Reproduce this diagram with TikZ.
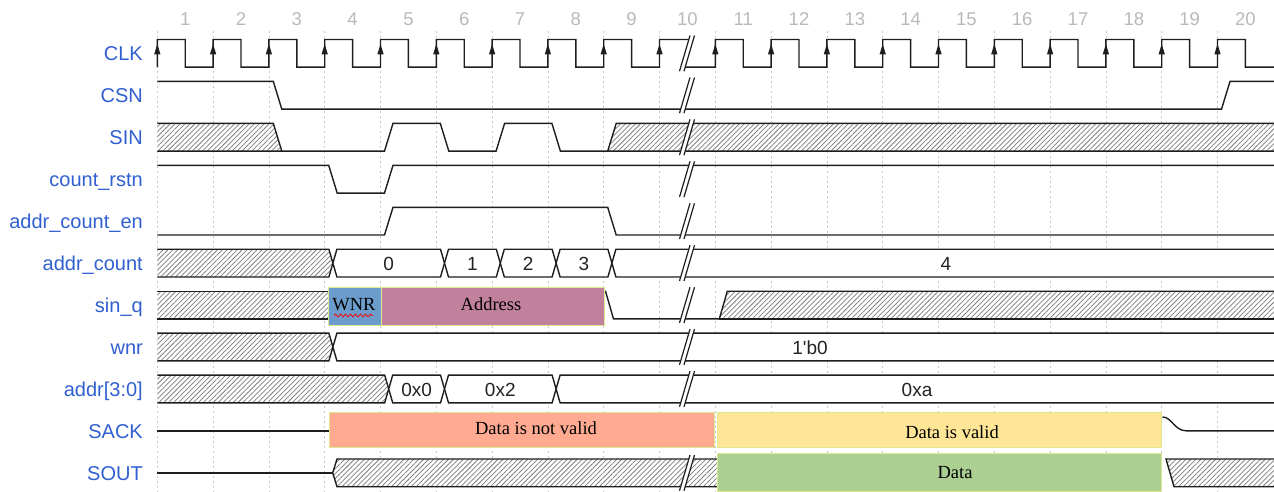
\documentclass[tikz,border=0pt]{standalone}
\usepackage{fontspec}
\setmainfont{Liberation Serif}
\setsansfont{Liberation Sans}
\usetikzlibrary{patterns.meta,decorations.pathmorphing}
\definecolor{sigc}{RGB}{30,30,30}
\definecolor{gridc}{RGB}{200,200,200}
\definecolor{hatchc}{RGB}{125,125,125}
\definecolor{labc}{RGB}{47,95,208}
\definecolor{numc}{RGB}{185,185,185}
\definecolor{valc}{RGB}{35,35,35}
\definecolor{boxedge}{RGB}{222,232,140}
\definecolor{salmonc}{RGB}{255,170,145}
\definecolor{yellowc}{RGB}{255,230,150}
\definecolor{greenc}{RGB}{172,208,146}
\definecolor{bluec}{RGB}{108,156,204}
\definecolor{mauvec}{RGB}{193,128,155}
\tikzset{
 sig/.style={line width=1.4pt, draw=sigc, line join=miter},
 hatch/.style={preaction={fill=white}, pattern={Lines[angle=45,distance=3.5pt,line width=0.75pt]}, pattern color=hatchc},
 wfill/.style={fill=white},
 brkline/.style={line width=1.2pt, draw=sigc},
 gridline/.style={draw=gridc, line width=0.8pt, dash pattern=on 2pt off 3pt},
 lab/.style={font=\sffamily\fontsize{20}{24}\selectfont, text=labc, anchor=base east, inner sep=0pt},
 num/.style={font=\sffamily\fontsize{18.5}{22}\selectfont, text=numc, anchor=base, inner sep=0pt},
 val/.style={font=\sffamily\fontsize{19}{22}\selectfont, text=valc, anchor=base, inner sep=0pt},
 boxtxt/.style={font=\fontsize{18.5}{22}\selectfont, text=black, anchor=base, inner sep=0pt},
 cbox/.style={draw=boxedge, line width=1pt},
}
\newcommand\tbreak[2]{%
 \fill[white] (679.5,{#2+4}) -- (690,{#1-4}) -- (694.5,{#1-4}) -- (684,{#2+4}) -- cycle;
 \draw[brkline] (679.5,{#2+4}) -- (690,{#1-4}) (684,{#2+4}) -- (694.5,{#1-4});}
\newcommand\busL[4]{%
 \path[#1] (157.3,#3) -- ({#2-4},#3) -- (#2,{(#3+#4)/2}) -- ({#2-4},#4) -- (157.3,#4) -- cycle;
 \draw[sig] (157.3,#3) -- ({#2-4},#3) -- (#2,{(#3+#4)/2}) -- ({#2-4},#4) -- (157.3,#4);}
\newcommand\busM[5]{%
 \path[#1,sig] (#2,{(#4+#5)/2}) -- ({#2+4},#4) -- ({#3-4},#4) -- (#3,{(#4+#5)/2}) -- ({#3-4},#5) -- ({#2+4},#5) -- cycle;}
\newcommand\busR[4]{%
 \path[#1] (1276,#3) -- ({#2+4},#3) -- (#2,{(#3+#4)/2}) -- ({#2+4},#4) -- (1276,#4) -- cycle;
 \draw[sig] (1276,#3) -- ({#2+4},#3) -- (#2,{(#3+#4)/2}) -- ({#2+4},#4) -- (1276,#4);}
\begin{document}
\begin{tikzpicture}[x=1pt,y=-1pt]
\useasboundingbox (0,0) rectangle (1274,492);
% grid
\foreach \k in {0,...,19} \draw[gridline] ({157.3+55.8*\k},31) -- ({157.3+55.8*\k},492);
% cycle numbers
\foreach \k in {1,...,20} \node[num] (n\k) at ({157.3+55.8*(\k-0.5)},26) {\k};
% labels
\node[lab] (lclk) at (143,60.5) {CLK};
\node[lab] (lcsn) at (143,102.5) {CSN};
\node[lab] (lsin) at (143,144.5) {SIN};
\node[lab] (lcr) at (143,186.4) {count\_rstn};
\node[lab] (lace) at (143,228.3) {addr\_count\_en};
\node[lab] (lac) at (143,270.3) {addr\_count};
\node[lab] (lsq) at (143,312.2) {sin\_q};
\node[lab] (lwnr) at (143,354.2) {wnr};
\node[lab] (laddr) at (143,396.1) {addr[3:0]};
\node[lab] (lsack) at (143,438.1) {SACK};
\node[lab] (lsout) at (143,480) {SOUT};
% CLK
\draw[sig] (157.3,67.2) \foreach \k in {0,...,8} { -- ({157.3+55.8*\k},39.5) -- ({157.3+55.8*\k+27.9},39.5) -- ({157.3+55.8*\k+27.9},67.2) -- ({157.3+55.8*(\k+1)},67.2) } -- (659.5,39.5) -- (691,39.5);
\draw[sig] (682,67.2) -- (715.3,67.2) \foreach \k in {10,...,18} { -- ({157.3+55.8*\k},39.5) -- ({157.3+55.8*\k+27.9},39.5) -- ({157.3+55.8*\k+27.9},67.2) -- ({157.3+55.8*(\k+1)},67.2) } -- (1217.5,39.5) -- (1245.4,39.5) -- (1245.4,67.2) -- (1276,67.2);
\foreach \k in {0,...,19} \fill[sigc] ({157.3+55.8*\k},44) -- ({157.3+55.8*\k-3.2},54.5) -- ({157.3+55.8*\k+3.2},54.5) -- cycle;
% CSN
\draw[sig] (157.3,81.45) -- (273.3,81.45) -- (281.8,109.15) -- (1221.5,109.15) -- (1230,81.45) -- (1276,81.45);
% SIN
\path[hatch] (157.3,123.4) -- (273.3,123.4) -- (281.8,151.1) -- (157.3,151.1) -- cycle;
\draw[sig] (157.3,123.4) -- (273.3,123.4) -- (281.8,151.1);
\path[hatch] (607.7,151.1) -- (616.2,123.4) -- (1276,123.4) -- (1276,151.1) -- cycle;
\draw[sig] (157.3,151.1) -- (384.5,151.1) -- (393,123.4) -- (440.3,123.4) -- (448.8,151.1) -- (496.1,151.1) -- (504.6,123.4) -- (551.9,123.4) -- (560.4,151.1) -- (607.7,151.1) -- (1276,151.1);
\draw[sig] (607.7,151.1) -- (616.2,123.4) -- (1276,123.4);
% count_rstn
\draw[sig] (157.3,165.35) -- (328.7,165.35) -- (337.2,193.05) -- (384.5,193.05) -- (393,165.35) -- (1276,165.35);
% addr_count_en
\draw[sig] (157.3,235) -- (384.5,235) -- (393,207.3) -- (607.7,207.3) -- (616.2,235) -- (1276,235);
% addr_count
\busL{hatch}{332.9}{249.25}{276.95}
\busM{wfill}{332.9}{444.5}{249.25}{276.95}
\busM{wfill}{444.5}{500.3}{249.25}{276.95}
\busM{wfill}{500.3}{556.1}{249.25}{276.95}
\busM{wfill}{556.1}{611.9}{249.25}{276.95}
\busR{wfill}{611.9}{249.25}{276.95}
\node[val] (ac0) at (388.7,270.1) {0};
\node[val] (ac1) at (472.4,270.1) {1};
\node[val] (ac2) at (528.2,270.1) {2};
\node[val] (ac3) at (584,270.1) {3};
\node[val] (ac4) at (946,270.1) {4};
% sin_q
\path[hatch] (157.3,291.2) rectangle (330,318.9);
\draw[sig] (157.3,291.2) -- (330,291.2) (157.3,318.9) -- (330,318.9);
\path[hatch] (719.3,318.9) -- (727.3,291.2) -- (1276,291.2) -- (1276,318.9) -- cycle;
\draw[sig] (604,291.2) -- (605.5,291.2) -- (613.5,318.9) -- (719.3,318.9) -- (727.3,291.2) -- (1276,291.2);
\draw[sig] (719.3,318.9) -- (1276,318.9);
% wnr
\busL{hatch}{332.9}{333.15}{360.85}
\busR{wfill}{332.9}{333.15}{360.85}
\node[val] (wv) at (810,354) {1\textquotesingle b0};
% addr
\busL{hatch}{388.7}{375.1}{402.8}
\busM{wfill}{388.7}{444.5}{375.1}{402.8}
\busM{wfill}{444.5}{556.1}{375.1}{402.8}
\busR{wfill}{556.1}{375.1}{402.8}
\node[val] (a0) at (416.6,396) {0x0};
\node[val] (a2) at (500.3,396) {0x2};
\node[val] (aa) at (917,396) {0xa};
% SACK
\draw[sig] (157.3,430.9) -- (330,430.9);
\draw[sig] (1162.5,417) .. controls (1172,417) and (1174,430.9) .. (1187,430.9) -- (1276,430.9);
% SOUT
\draw[sig] (157.3,472.85) -- (332.7,472.85);
\path[hatch] (332.7,472.85) -- (337,459) -- (720,459) -- (720,486.7) -- (337,486.7) -- cycle;
\draw[sig] (720,459) -- (337,459) -- (332.7,472.85) -- (337,486.7) -- (720,486.7);
\path[hatch] (1166,459) -- (1276,459) -- (1276,486.7) -- (1174,486.7) -- cycle;
\draw[sig] (1276,459) -- (1166,459) -- (1174,486.7) -- (1276,486.7);
% breaks
\tbreak{39.5}{67.2}
\tbreak{81.45}{109.15}
\tbreak{123.4}{151.1}
\tbreak{165.35}{193.05}
\tbreak{207.3}{235}
\tbreak{249.25}{276.95}
\tbreak{291.2}{318.9}
\tbreak{333.15}{360.85}
\tbreak{375.1}{402.8}
\tbreak{459}{486.7}
% boxes
\path[cbox,fill=bluec] (328.5,287.3) rectangle (381,325.7);
\path[cbox,fill=mauvec] (381,287.3) rectangle (604,325.7);
\node[boxtxt] (twnr) at (354,310.6) {WNR};
\draw[red, line width=0.8pt, decorate, decoration={snake, amplitude=1.4pt, segment length=5pt}] (334,315.5) -- (373,315.5);
\node[boxtxt] (taddr) at (491,310.6) {Address};
\path[cbox,fill=salmonc] (329,412.3) rectangle (714,447.3);
\path[cbox,fill=yellowc] (717.5,412.3) rectangle (1161.5,447.3);
\path[cbox,fill=greenc] (717.5,453.5) rectangle (1161.5,491.5);
\node[boxtxt] (tnv) at (536,434) {Data is not valid};
\node[boxtxt] (tv) at (952,438) {Data is valid};
\node[boxtxt] (td) at (955,478) {Data};
\end{tikzpicture}
\end{document}
